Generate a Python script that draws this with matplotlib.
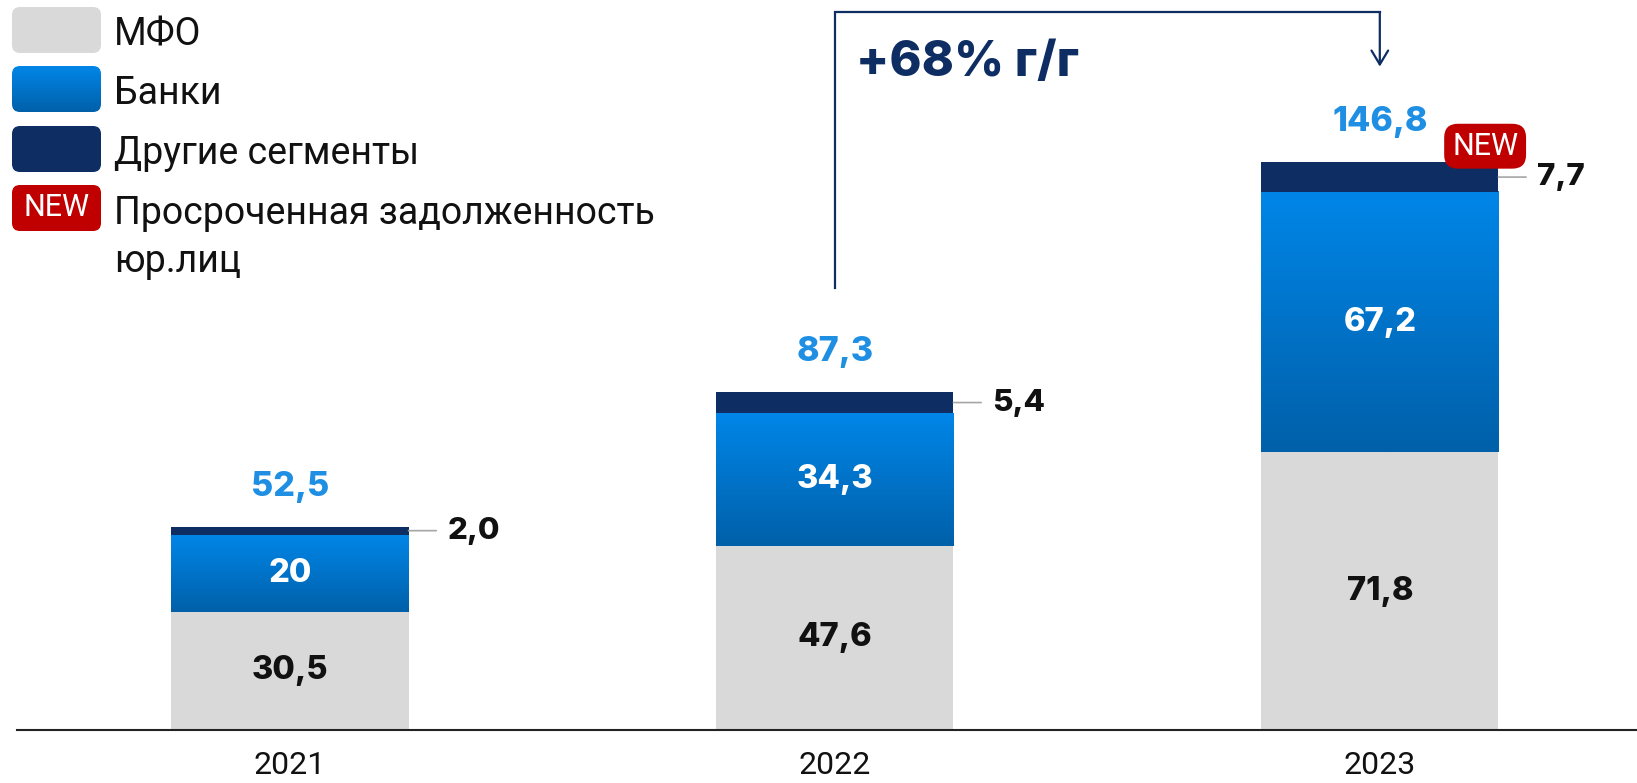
import matplotlib.pyplot as plt
import numpy as np
from matplotlib.colors import LinearSegmentedColormap
from matplotlib.patches import FancyBboxPatch

plt.rcParams['font.family'] = ['Roboto', 'DejaVu Sans']

years = ['2021', '2022', '2023']
mfo = [30.5, 47.6, 71.8]
banks = [20.0, 34.3, 67.2]
other = [2.0, 5.4, 7.7]
mfo_labels = ['30,5', '47,6', '71,8']
bank_labels = ['20', '34,3', '67,2']
other_labels = ['2,0', '5,4', '7,7']
total_labels = ['52,5', '87,3', '146,8']
growth_label = '+68% г/г'
legend_labels = ['МФО', 'Банки', 'Другие сегменты', 'Просроченная задолженность', 'юр.лиц']

GRAY = '#D9D9D9'
BLUE_TOP = '#0086E8'
BLUE_BOT = '#0060A9'
NAVY = '#0E2D63'
RED = '#C00000'
TOTAL_BLUE = '#1E8FE3'
NUM_FONT = ['Inter', 'DejaVu Sans']
NUM_W = 'heavy'

blue_cmap = LinearSegmentedColormap.from_list('banks', [BLUE_BOT, BLUE_TOP])
grad = np.linspace(0, 1, 256).reshape(-1, 1)

W, H = 1637, 783
fig = plt.figure(figsize=(W / 100, H / 100), dpi=100)
ax = fig.add_axes([17 / W, 53 / H, 1620 / W, 730 / H])

x = np.arange(len(years))
w = 0.435
mfo_a, banks_a, other_a = np.array(mfo), np.array(banks), np.array(other)
tops = mfo_a + banks_a + other_a

ax.bar(x, mfo_a, w, color=GRAY, zorder=2)
for i in range(len(x)):
    ax.imshow(grad, extent=[x[i] - w / 2, x[i] + w / 2, mfo_a[i], mfo_a[i] + banks_a[i]],
              cmap=blue_cmap, aspect='auto', origin='lower', zorder=2)
ax.bar(x, other_a, w, bottom=mfo_a + banks_a, color=NAVY, zorder=2)

ax.set_xlim(-0.501, 2.472)
ax.set_ylim(0, 188.6)

for i in range(len(x)):
    ax.text(x[i], mfo_a[i] / 2, mfo_labels[i], ha='center', va='center', fontsize=23.5,
            fontweight=NUM_W, color='#111111', family=NUM_FONT, zorder=3)
    ax.text(x[i], mfo_a[i] + banks_a[i] / 2, bank_labels[i], ha='center', va='center',
            fontsize=23.5, fontweight=NUM_W, color='white', family=NUM_FONT, zorder=3)
    ax.annotate(total_labels[i], (x[i], tops[i]), xytext=(0, 29), textcoords='offset points',
                ha='center', va='center', fontsize=24.5, fontweight=NUM_W, color=TOTAL_BLUE,
                family=NUM_FONT)
    ax.annotate(other_labels[i], (x[i] + w / 2, tops[i] - other_a[i] / 2), xytext=(28, 0),
                textcoords='offset points', ha='left', va='center', fontsize=22.5,
                fontweight=NUM_W, color='#111111', family=NUM_FONT,
                arrowprops=dict(arrowstyle='-', color='#A6A6A6', lw=1.2, shrinkA=6, shrinkB=0))

# NEW badge on the last bar
ax.annotate('NEW', (x[2] + w / 2, tops[2]), xytext=(-9.5, 11.5), textcoords='offset points',
            ha='center', va='center', fontsize=22, color='white', zorder=4,
            bbox=dict(boxstyle='round,pad=0.26,rounding_size=0.45', fc=RED, ec='none'))

# growth bracket 2022 -> 2023
y_low = tops[1] + 27
y_top = 185.4
ax.plot([x[1], x[1], x[2]], [y_low, y_top, y_top], color=NAVY, lw=1.6, clip_on=False,
        solid_joinstyle='miter')
ax.annotate('', xy=(x[2], y_top - 14), xytext=(x[2], y_top),
            arrowprops=dict(arrowstyle='->,head_length=0.5,head_width=0.3', color=NAVY, lw=1.6,
                            shrinkA=0, shrinkB=0, mutation_scale=20))

for s in ['left', 'right', 'top']:
    ax.spines[s].set_visible(False)
ax.spines['bottom'].set_color('#222222')
ax.spines['bottom'].set_linewidth(1.5)
ax.set_yticks([])
ax.set_xticks(x)
ax.set_xticklabels(years, fontsize=23, color='#111111')
ax.tick_params(axis='x', length=0, pad=15)

# overlay in pixel coords for legend and headline
ov = fig.add_axes([0, 0, 1, 1], zorder=5)
ov.set_xlim(0, W)
ov.set_ylim(H, 0)
ov.axis('off')

sw_x, sw_w, sw_h = 12, 89, 46
sw_tops = [7, 66, 126, 185]
sw_colors = [GRAY, None, NAVY, RED]
for k, top in enumerate(sw_tops):
    patch = FancyBboxPatch((sw_x, top), sw_w, sw_h, boxstyle='round,pad=0,rounding_size=8',
                           fc=sw_colors[k] if sw_colors[k] else 'none', ec='none')
    ov.add_patch(patch)
    if sw_colors[k] is None:
        im = ov.imshow(grad, extent=[sw_x, sw_x + sw_w, top + sw_h, top], cmap=blue_cmap,
                       aspect='auto', origin='lower')
        im.set_clip_path(patch)
    ov.text(114, top + sw_h / 2 + 1, legend_labels[k], fontsize=27, va='center_baseline',
            ha='left', color='#111111')
ov.text(sw_x + sw_w / 2, sw_tops[3] + sw_h / 2, 'NEW', fontsize=22, color='white',
        ha='center', va='center')
ov.text(114, 257, legend_labels[4], fontsize=27, va='center_baseline', ha='left',
        color='#111111')
ov.set_xlim(0, W)
ov.set_ylim(H, 0)

ov.text(856, 58, growth_label, fontsize=35, fontweight=NUM_W, color=NAVY,
        va='center_baseline', ha='left', family=NUM_FONT)

fig.savefig('out.png', dpi=100)
